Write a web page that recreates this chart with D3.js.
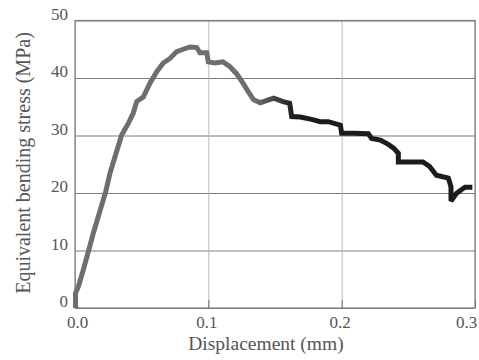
<!DOCTYPE html>
<html>
<head>
<meta charset="utf-8">
<script src="https://cdn.jsdelivr.net/npm/d3@7"></script>
<style>
  body { margin: 0; background: #fff; }
  svg { display: block; }
</style>
</head>
<body>
<svg width="479" height="360"></svg>
<script>
document.addEventListener("DOMContentLoaded", function () {

  // displacement (mm) and stress (MPa)
  var disp = [0.0004, 0.0004, 0.0025, 0.0062, 0.010, 0.0137, 0.0175, 0.0212, 0.023, 0.0263,
    0.030, 0.035, 0.040, 0.0437, 0.0463, 0.0512, 0.0562, 0.0613, 0.0662, 0.0712,
    0.0763, 0.0812, 0.0862, 0.0913, 0.0937, 0.0988, 0.100, 0.105, 0.111, 0.116,
    0.121, 0.126, 0.130, 0.134, 0.139, 0.144, 0.149, 0.156, 0.161, 0.1625,
    0.169, 0.1775, 0.184, 0.190, 0.199, 0.200, 0.209, 0.220, 0.2225, 0.229,
    0.234, 0.239, 0.2425, 0.2425, 0.261, 0.266, 0.271, 0.280, 0.282, 0.282,
    0.286, 0.290, 0.2925, 0.298]
  var stress = [0, 2.6, 3.7, 6.6, 9.8, 13.0, 15.9, 18.8, 20.2, 23.5,
    26.3, 30.1, 32.1, 33.9, 35.9, 36.7, 39.1, 41.1, 42.6, 43.4,
    44.6, 45.0, 45.4, 45.3, 44.4, 44.4, 42.8, 42.6, 42.8, 42.0,
    40.8, 39.1, 37.6, 36.2, 35.7, 36.1, 36.5, 35.9, 35.6, 33.3,
    33.2, 32.8, 32.4, 32.4, 31.8, 30.4, 30.4, 30.3, 29.5, 29.2,
    28.6, 27.8, 26.9, 25.4, 25.4, 24.6, 23.1, 22.6, 21.1, 18.6,
    19.9, 20.6, 21.0, 21.0]

  var xTicks = [0, 0.1, 0.2, 0.3]
  var yTicks = [0, 10, 20, 30, 40, 50]
  var xTitle = "Displacement (mm)"
  var yTitle = "Equivalent bending stress (MPa)"

  var margin = {left: 75, top: 20.5}
  var width = 400, height = 287.5
  var font = "'Liberation Serif', 'Times New Roman', serif"

  var svg = d3.select("svg")
  var g = svg.append("g").attr("transform", "translate(" + margin.left + "," + margin.top + ")")

  var xScale = d3.scaleLinear().domain([0, 0.3]).range([0, width])
  var yScale = d3.scaleLinear().domain([0, 50]).range([height, 0])

  // grid lines
  g.append("g").attr("class", "hgrid")
    .call(d3.axisLeft(yScale).tickValues(yTicks).tickSize(-width).tickFormat(""))
    .call(function (s) {
      s.select(".domain").remove()
      s.selectAll("line").attr("stroke", "#7a7a7a")
    })
  g.append("g").attr("class", "vgrid")
    .attr("transform", "translate(0," + height + ")")
    .call(d3.axisBottom(xScale).tickValues(xTicks).tickSize(-height).tickFormat(""))
    .call(function (s) {
      s.select(".domain").remove()
      s.selectAll("line").attr("stroke", "#b8b8b8")
    })

  // frame
  g.append("rect")
    .attr("width", width).attr("height", height)
    .attr("fill", "none").attr("stroke", "#7d7d7d").attr("stroke-width", 1.2)

  // x axis labels + short inner ticks
  var xAxis = d3.axisBottom(xScale)
    .tickValues(xTicks)
    .tickSize(-8)
    .tickPadding(8)
    .tickFormat(d3.format(".1f"))
  var xg = g.append("g").attr("transform", "translate(0," + height + ")").call(xAxis)
  xg.select(".domain").remove()
  xg.selectAll("line").attr("stroke", "#707070")
  xg.selectAll("text")
    .style("font-family", font).style("font-size", "17px").attr("fill", "#555")
    .attr("dx", function (d) { return d == 0.3 ? -9 : (d == 0 ? 2 : -2) })

  // y axis labels
  var yAxis = d3.axisLeft(yScale)
    .tickValues(yTicks)
    .tickSize(0)
    .tickPadding(7)
  var yg = g.append("g").call(yAxis)
  yg.select(".domain").remove()
  yg.selectAll("text")
    .style("font-family", font).style("font-size", "17px").attr("fill", "#555")
    .attr("dy", "-0.06em")

  // titles
  svg.append("text")
    .attr("x", 266).attr("y", 350)
    .attr("text-anchor", "middle")
    .style("font-family", font).style("font-size", "19.5px").attr("fill", "#555")
    .text(xTitle)
  svg.append("text")
    .attr("transform", "translate(30,163) rotate(-90)")
    .attr("text-anchor", "middle")
    .style("font-family", font).style("font-size", "20px").attr("fill", "#555")
    .text(yTitle)

  // gray rising part fading into black
  var grad = svg.append("defs").append("linearGradient")
    .attr("id", "curveGrad")
    .attr("gradientUnits", "userSpaceOnUse")
    .attr("x1", xScale(0.135)).attr("y1", 0)
    .attr("x2", xScale(0.165)).attr("y2", 0)
  grad.append("stop").attr("offset", "0%").attr("stop-color", "#6d6d73")
  grad.append("stop").attr("offset", "100%").attr("stop-color", "#1c1c1c")

  var pts = disp.map(function (d, i) { return [d, stress[i]] })
  var line = d3.line()
    .x(function (d) { return xScale(d[0]) })
    .y(function (d) { return yScale(d[1]) })

  g.append("path")
    .datum(pts)
    .attr("d", line)
    .attr("fill", "none")
    .attr("stroke", "url(#curveGrad)")
    .attr("stroke-width", 5)
    .attr("stroke-linejoin", "miter")
    .attr("stroke-miterlimit", 2)

});
</script>
</body>
</html>
